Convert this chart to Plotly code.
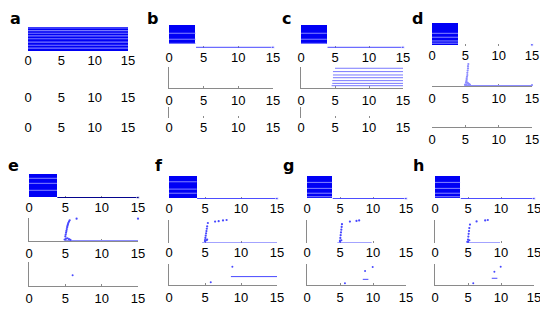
import plotly.graph_objects as go

W, H = 548, 313
OFF = 8  # the page body adds an 8 px margin; positions below are in screen pixels

panels = ['a', 'b', 'c', 'd', 'e', 'f', 'g', 'h']
tick_vals = [0, 5, 10, 15]
tick_text = ['0', '5', '10', '15']

# ---------------- data (time axis 0..15, row heights as fraction of sub-axis) -------------
# top raster: solid block from 0 to block_end, rows with lighter stripes
block_end = {'a': 15, 'b': 3.8, 'c': 3.8, 'd': 3.9, 'e': 3.85, 'f': 3.85, 'g': 3.8, 'h': 3.8}
block_lo = {'a': 0.0, 'b': 0.16, 'c': 0.16, 'd': 0.05, 'e': 0.05, 'f': 0.06, 'g': 0.06, 'h': 0.06}
stripes = {
    'a': [0.96, 0.85, 0.74, 0.63, 0.51, 0.37, 0.24, 0.12],
    'b': [0.64, 0.38, 0.2],
    'c': [0.64, 0.38, 0.2],
    'd': [0.55, 0.38, 0.22, 0.12],
    'e': [0.82, 0.61, 0.32],
    'f': [0.75, 0.43, 0.25],
    'g': [0.72, 0.46, 0.25, 0.1],
    'h': [0.72, 0.46, 0.25, 0.1],
}
# bottom trial line of top raster: (start, end, y)
top_line = {
    'b': (3.9, 15, 0.03), 'c': (3.9, 15, 0.03), 'd': (14.9, 15, 0.05),
    'e': (3.9, 15, 0.02), 'f': (3.9, 15, 0.02), 'g': (3.9, 15, 0.02), 'h': (3.9, 15, 0.02),
}

# middle raster
c_mid_start = [5.0, 4.7, 4.7, 4.7, 4.6, 4.6, 4.5]
c_mid_end = [15, 15, 15, 15, 15, 15, 15]
c_mid_y = [0.94, 0.78, 0.62, 0.49, 0.35, 0.22, 0.11]

mid_dots_x = {
    'd': [5.45, 5.4, 5.4, 5.35, 5.3, 5.3, 5.25, 5.2, 5.2, 5.15, 5.1, 5.3, 5.4, 5.5, 5.6, 5.2, 5.0, 4.95, 5.7, 15],
    'e': [5.0, 5.05, 5.1, 5.15, 5.2, 5.25, 5.3, 5.35, 5.4, 5.5, 5.6, 6.55, 15, 4.9, 5.1, 5.3, 5.5, 5.7],
    'f': [5.0, 5.05, 5.1, 5.15, 5.2, 5.25, 5.3, 5.4, 6.4, 6.9, 7.5, 8.0, 5.0, 5.2, 5.3],
    'g': [5.0, 5.05, 5.1, 5.15, 5.2, 5.25, 5.3, 6.5, 7.5, 7.9, 5.0, 5.2],
    'h': [4.9, 5.0, 5.05, 5.1, 5.15, 5.2, 5.3, 6.3, 7.6, 8.0, 5.0, 5.2],
}
mid_dots_y = {
    'd': [1.0, 0.9, 0.8, 0.7, 0.6, 0.5, 0.42, 0.35, 0.28, 0.22, 0.16, 0.16, 0.12, 0.1, 0.08, 0.08, 0.06, 0.05, 0.05, 0.04],
    'e': [0.2, 0.28, 0.36, 0.44, 0.52, 0.6, 0.66, 0.72, 0.78, 0.84, 0.9, 0.97, 0.97, 0.06, 0.1, 0.12, 0.08, 0.05],
    'f': [0.13, 0.22, 0.32, 0.42, 0.52, 0.62, 0.72, 0.87, 0.93, 0.95, 0.98, 1.0, 0.08, 0.12, 0.15],
    'g': [0.1, 0.22, 0.34, 0.46, 0.58, 0.7, 0.82, 0.93, 0.96, 0.98, 0.06, 0.12],
    'h': [0.05, 0.15, 0.28, 0.4, 0.52, 0.65, 0.8, 0.94, 0.98, 1.0, 0.06, 0.12],
}
# bottom trial line of middle raster: (start, end, y)
mid_line = {'d': (5.0, 15, 0.02), 'e': (5.0, 15, 0.02), 'f': (4.6, 15, 0.0),
            'g': (4.6, 9.8, 0.0), 'h': (4.8, 9.85, 0.0)}

# bottom raster
low_lines = {'f': [(8.6, 15, 0.4)], 'g': [(8.45, 9.3, 0.27)], 'h': [(8.6, 9.45, 0.32)]}
low_dots_x = {'e': [6.0], 'f': [8.8, 5.8], 'g': [8.8, 9.95, 5.75], 'h': [9.0, 9.95, 5.8]}
low_dots_y = {'e': [0.45], 'f': [0.87, 0.13], 'g': [0.67, 0.86, 0.08], 'h': [0.63, 0.87, 0.08]}

# ---------------- layout geometry (screen pixels) -------------
PX = {'a': (28, 128), 'b': (169, 273), 'c': (301, 403), 'd': (432, 532),
      'e': (29, 138), 'f': (169, 277), 'g': (307, 406), 'h': (435, 534)}
PY = {
    'a': [(27, 51), (67, 88), (107, 118)],
    'b': [(25, 48), (67, 88), (107, 118)],
    'c': [(25, 48), (67, 88), (107, 118)],
    'd': [(23, 46), (64, 86), (106, 127)],
    'e': [(174, 198), (218, 241), (262, 286)],
    'f': [(176, 199), (220, 243), (264, 285)],
    'g': [(176, 199), (220, 243), (264, 285)],
    'h': [(176, 199), (220, 243), (264, 285)],
}
# which axis lines are drawn: (left y line, bottom x line)
AXL = {
    'a': [(False, False), (False, False), (False, False)],
    'b': [(False, False), (True, True), (True, False)],
    'c': [(False, False), (True, True), (True, False)],
    'd': [(False, False), (False, True), (False, True)],
    'e': [(False, False), (True, True), (True, True)],
    'f': [(False, False), (True, False), (True, True)],
    'g': [(False, False), (True, False), (True, True)],
    'h': [(False, False), (True, False), (True, True)],
}
# panel letter: left edge and top of text box (screen pixels)
LETTER_POS = {'a': (9, 8), 'b': (146, 8), 'c': (281, 8), 'd': (411, 8),
              'e': (7, 155), 'f': (154, 155), 'g': (282, 155), 'h': (412, 155)}

BLUE = '#0000f5'
LIGHT = '#7878ff'
MIDBLUE = '#4848ff'
NAVY = '#00008c'
GRAY = '#8a8a8a'
FONT = 'Liberation Sans, Arial, sans-serif'


def fx(px):
    return (px - OFF) / W


def fy(py):
    return 1 - (py - OFF) / H


fig = go.Figure()
layout = {}


def seg_xy(segs):
    xs, ys = [], []
    for x0, x1, y in segs:
        xs += [x0, x1, None]
        ys += [y, y, None]
    return xs, ys


idx = 0
for p in panels:
    for s in range(3):
        idx += 1
        sfx = '' if idx == 1 else str(idx)
        xref, yref = 'x' + sfx, 'y' + sfx
        x0, x1 = PX[p]
        y0, y1 = PY[p][s]
        yl, xl = AXL[p][s]
        layout['xaxis' + sfx] = dict(
            domain=[fx(x0), fx(x1)], anchor=yref, range=[0, 15], automargin=False,
            tickvals=tick_vals, ticktext=tick_text, showgrid=False, zeroline=False,
            showline=xl, linecolor=GRAY, linewidth=1, layer='below traces',
            ticks='' if p == 'a' else 'inside', ticklen=2, tickcolor=GRAY,
            tickfont=dict(family=FONT, size=13, color='black'), fixedrange=True)
        layout['yaxis' + sfx] = dict(
            domain=[fy(y1), fy(y0)], anchor=xref, range=[0, 1], automargin=False,
            showticklabels=False, ticks='', showgrid=False, zeroline=False, layer='below traces',
            showline=yl, linecolor=GRAY, linewidth=1, fixedrange=True)

        # empty trace so every sub-axis is drawn
        fig.add_trace(go.Scatter(x=[None], y=[None], mode='markers', xaxis=xref, yaxis=yref,
                                 showlegend=False, hoverinfo='skip'))

        if s == 0:
            lo = block_lo[p]
            fig.add_trace(go.Bar(x=[block_end[p]], base=[0], y=[(lo + 1) / 2], width=[1 - lo],
                                 orientation='h', marker=dict(color=BLUE, line=dict(width=0)),
                                 xaxis=xref, yaxis=yref, showlegend=False))
            sx, sy = seg_xy([(0, block_end[p], y) for y in stripes[p]])
            fig.add_trace(go.Scatter(x=sx, y=sy, mode='lines', line=dict(color=LIGHT, width=1.1),
                                     xaxis=xref, yaxis=yref, showlegend=False, cliponaxis=False))
            if p in top_line:
                a0, a1, yy = top_line[p]
                col = NAVY if p == 'e' else MIDBLUE
                fig.add_trace(go.Scatter(x=[a0, a1], y=[yy, yy], mode='lines+markers',
                                         line=dict(color=col, width=1),
                                         marker=dict(size=[0, 3], color=col),
                                         xaxis=xref, yaxis=yref, showlegend=False, cliponaxis=False))
        elif s == 1:
            if p == 'c':
                sx, sy = seg_xy(list(zip(c_mid_start, c_mid_end, c_mid_y)))
                fig.add_trace(go.Scatter(x=sx, y=sy, mode='lines', line=dict(color=LIGHT, width=1),
                                         xaxis=xref, yaxis=yref, showlegend=False, cliponaxis=False))
            if p in mid_line:
                a0, a1, yy = mid_line[p]
                col = '#8c8cff' if p in ('d', 'e') else MIDBLUE
                fig.add_trace(go.Scatter(x=[a0, a1], y=[yy, yy], mode='lines',
                                         line=dict(color=col, width=1.2),
                                         xaxis=xref, yaxis=yref, showlegend=False, cliponaxis=False))
            if p in mid_dots_x:
                col = '#8c8cff' if p == 'd' else MIDBLUE
                fig.add_trace(go.Scatter(x=mid_dots_x[p], y=mid_dots_y[p], mode='markers',
                                         marker=dict(size=2.2, color=col, line=dict(width=0)),
                                         xaxis=xref, yaxis=yref, showlegend=False, cliponaxis=False))
        else:
            if p in low_lines:
                sx, sy = seg_xy(low_lines[p])
                fig.add_trace(go.Scatter(x=sx, y=sy, mode='lines', line=dict(color=MIDBLUE, width=1),
                                         xaxis=xref, yaxis=yref, showlegend=False, cliponaxis=False))
            if p in low_dots_x:
                fig.add_trace(go.Scatter(x=low_dots_x[p], y=low_dots_y[p], mode='markers',
                                         marker=dict(size=2, color=MIDBLUE, line=dict(width=0)),
                                         xaxis=xref, yaxis=yref, showlegend=False, cliponaxis=False))

annotations = []
for p in panels:
    lx, ly = LETTER_POS[p]
    annotations.append(dict(text='<b>%s</b>' % p, x=fx(lx), y=fy(ly), xref='paper', yref='paper',
                            xanchor='left', yanchor='top', showarrow=False, borderpad=0,
                            font=dict(family='DejaVu Sans, sans-serif', size=16, color='black')))

fig.update_layout(**layout)
fig.update_layout(width=W, height=H, margin=dict(l=0, r=0, t=0, b=0, pad=0, autoexpand=False),
                  paper_bgcolor='white', plot_bgcolor='white', bargap=0,
                  annotations=annotations, showlegend=False)
fig.write_html('out.html')
